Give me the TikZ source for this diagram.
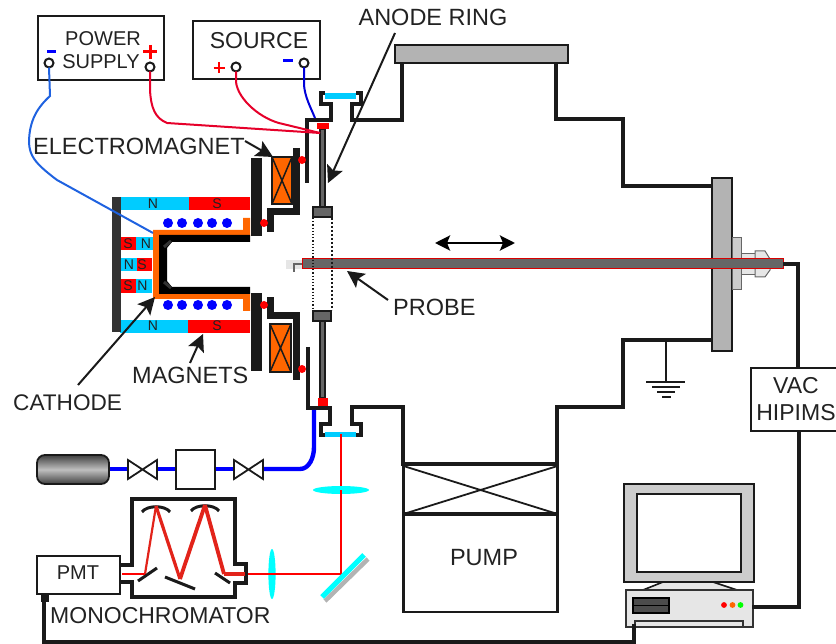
\documentclass[tikz,border=0pt]{standalone}
\usepackage{fontspec}
\setmainfont{Liberation Sans}
\usetikzlibrary{arrows.meta,calc}
\definecolor{ink}{HTML}{1A1A1A}
\definecolor{txt}{HTML}{222222}
\definecolor{cyanm}{HTML}{00CCFF}
\definecolor{lens}{HTML}{00FFFF}
\definecolor{orng}{HTML}{FF6600}
\definecolor{flg}{HTML}{B3B3B3}
\definecolor{rodg}{HTML}{666666}
\definecolor{lgt}{HTML}{E6E6E6}
\definecolor{mon}{HTML}{CCCCCC}
\definecolor{wireblue}{HTML}{1F62E0}
\definecolor{wirered}{HTML}{E6002A}
\definecolor{beam}{HTML}{E2231A}
\tikzset{
  wall/.style={draw=ink,line width=4.6pt,miter limit=10},
  boxst/.style={draw=ink,line width=2.4pt,fill=white,inner sep=0pt,outer sep=0pt},
  term/.style={circle,draw=ink,line width=2pt,fill=white,minimum size=9pt,inner sep=0pt,outer sep=0pt},
  lab/.style={text=txt,inner sep=0pt,font=\fontsize{23.5}{25}\selectfont},
  lab2/.style={text=txt,inner sep=0pt,font=\fontsize{23}{25}\selectfont},
  sm/.style={text=txt,inner sep=0pt,font=\fontsize{20}{22}\selectfont},
  pole/.style={text=txt,inner sep=0pt,font=\fontsize{14}{15}\selectfont},
  pointer/.style={draw=ink,line width=2pt,-{Stealth[length=17pt,width=17pt,inset=3.5pt]}},
  plate/.style={fill=ink},
  yoke/.style={draw=ink,line width=7pt},
  rod/.style={draw=ink,line width=1.3pt,fill=rodg},
  coilbox/.style={draw=ink,line width=2.6pt,fill=orng},
  cross/.style={draw=ink,line width=1.5pt},
  rdot/.style={fill=red},
  bdot/.style={fill=blue},
  gasl/.style={draw=blue,line width=4.4pt},
  valve/.style={draw=ink,line width=1.8pt,fill=white},
  cable/.style={draw=ink,line width=3.6pt},
  mirr/.style={draw=ink,line width=3pt},
}
\begin{document}
\begin{tikzpicture}[x=1pt,y=-1pt]
\useasboundingbox (0,0) rectangle (836,644);
% ---------- chamber
\draw[wall] (325,93)--(321,93)--(321,104)--(331,104)--(331,120)--(307,120)--(307,183);
\draw[wall] (356,93)--(361,93)--(361,104)--(352,104)--(352,120)--(402,120)--(402,63);
\draw[wall] (556,63)--(556,119)--(623,119)--(623,186)--(712,186);
\draw[wall] (712,340)--(623,340)--(623,407)--(557,407)--(557,464)--(403,464)--(403,407)--(352,407)--(352,424)--(361,424)--(361,435)--(356,435);
\draw[wall] (308,347)--(308,408)--(330,408)--(330,424)--(321,424)--(321,435)--(325,435);
\fill[cyanm] (325,93) rectangle (356,99);
\fill[cyanm] (325,432) rectangle (356,437);
\draw[draw=ink,line width=2.8pt,fill=flg] (395,45) rectangle (568,63);
\draw[draw=ink,line width=2.8pt,fill=flg] (712,178) rectangle (732,351);
% feedthrough
\draw[draw=rodg,line width=1pt,fill=mon] (732,238) rectangle (741,290);
\draw[draw=rodg,line width=1pt,fill=lgt] (741,254) rectangle (755,275);
\draw[draw=rodg,line width=1pt,fill=lgt] (755,251)--(765,251)--(770,259)--(770,270)--(765,277)--(755,277)--cycle;
% ---------- probe
\fill[lgt] (286,260) rectangle (302,269);
\draw[draw=rodg,line width=1.5pt] (294,272)--(294,264)--(302,264);
\coordinate (probeend) at (783,264);
\draw[draw=red!85!black,line width=1pt,fill=rodg] (302,259) rectangle (783,269);
% ---------- anode
\draw[rod] (320,129) rectangle (325,207);
\draw[rod] (320,321) rectangle (325,398);
\fill[red] (317,123) rectangle (329,129);
\fill[red] (318,398) rectangle (328,406);
\draw[draw=ink,line width=2.2pt,fill=rodg] (313,207) rectangle (332,217);
\draw[draw=ink,line width=2.2pt,fill=rodg] (313,311) rectangle (331,321);
\draw[draw=ink,line width=1.2pt,dotted] (313,218)--(313,310);
\draw[draw=ink,line width=2pt,dotted] (332,218)--(332,310);
% ---------- electromagnet
\fill[plate] (251,158) rectangle (262,236);
\fill[plate] (251,293) rectangle (262,371);
\draw[yoke] (296,148)--(296,212)--(270.5,212)--(270.5,232);
\draw[yoke] (296,380)--(296,316)--(270.5,316)--(270.5,297);
\draw[coilbox] (272,157) rectangle (292,204);
\draw[cross] (272,157)--(292,204) (292,157)--(272,204);
\draw[coilbox] (270,324) rectangle (291,372);
\draw[cross] (270,324)--(291,372) (291,324)--(270,372);
\foreach \p in {(264,223),(264,305),(302,160),(302,369)} \fill[rdot] \p circle (4);
% ---------- magnets
\fill[cyanm] (121,197) rectangle (189,210);
\fill[red] (189,197) rectangle (250,210);
\fill[cyanm] (120,320) rectangle (188,333);
\fill[red] (188,320) rectangle (250,333);
\fill[red] (121,237) rectangle (136,250);
\fill[cyanm] (136,237) rectangle (153,250);
\fill[cyanm] (121,258) rectangle (137,271);
\fill[red] (137,258) rectangle (152,271);
\fill[red] (121,279) rectangle (136,293);
\fill[cyanm] (136,279) rectangle (152,293);
\fill[black!80] (112,197) rectangle (121,332);
\node[pole] (n1) at (153,203.5) {N};
\node[pole] (s1) at (217,203.5) {S};
\node[pole] (n2) at (153,325.5) {N};
\node[pole] (s2) at (217,325.5) {S};
\node[pole] (s3) at (128,243.5) {S};
\node[pole] (n3) at (146,243.5) {N};
\node[pole] (n4) at (129,264.5) {N};
\node[pole] (s4) at (142,264.5) {S};
\node[pole] (s5) at (128,286) {S};
\node[pole] (n5) at (142.5,286) {N};
% coil turns
\foreach \x in {168,182,198,212,227} {
  \fill[bdot] (\x,223) circle (5);
  \fill[bdot] (\x,305) circle (5);
}
% ---------- cathode
\fill[orng] (243,218) rectangle (250,235) (153,230) rectangle (250,236);
\fill[orng] (243,294) rectangle (250,311) (153,294) rectangle (250,299);
\fill[orng] (153,230) rectangle (159,299);
\fill[black] (159,235)--(250,235)--(250,242)--(172,242)--(167,248)--(167,281)--(172,287)--(250,287)--(250,294)--(159,294)--cycle;
\draw[draw=black!80,line width=3pt] (164,247)--(171,241) (164,282)--(171,288);
% ---------- sources
\node[boxst,minimum width=126pt,minimum height=64pt] (psu) at (101,48) {};
\node[boxst,minimum width=127pt,minimum height=58pt] (src) at (256.5,50) {};
\node[sm] (psu1) at (103,39) {POWER};
\node[sm] (psu2) at (101,62) {SUPPLY};
\node[lab2] (srct) at (259,41) {SOURCE};
\node[term] (pm) at (49,63) {};
\node[term] (pp) at (150,67) {};
\node[term] (sp) at (236,67) {};
\node[term] (sm) at (304,63) {};
\draw[blue,line width=3pt] (47,51.5)--(56,51.5);
\draw[blue,line width=3pt] (283,61)--(293,61);
\draw[red,line width=3pt] (143,52)--(157,52) (150,45)--(150,59);
\draw[red,line width=2.4pt] (213.5,68)--(224.5,68) (219,62.5)--(219,73.5);
\coordinate (cathtop) at (153,233);
\coordinate (anodewire) at (320,133);
\coordinate (anodetop) at (315,118);
\draw[wireblue,line width=2pt] (pm.south)--(50,96) .. controls (38,107) and (29,120) .. (29,143) .. controls (30,155) and (33,162) .. (57,180) -- (cathtop);
\draw[wirered,line width=2pt] (pp.south)--(150,90) .. controls (151,108) and (155,118) .. (167,123) -- (anodewire);
\draw[wirered,line width=2pt] (sp.south)--(236,82) .. controls (238,100) and (262,120) .. (283,124) -- (anodewire);
\draw[blue!85!black,line width=2pt] (sm.south)--(304,85) .. controls (305,97) and (310,106) .. (anodetop);
% ---------- gas line
\draw[gasl] (109,469)--(128,469);
\draw[gasl] (157,469)--(176,469);
\draw[gasl] (215,469)--(234,469);
\draw[gasl] (263,469)--(300,469) .. controls (309,469) and (314,458) .. (314,447) -- (314,410);
\draw[draw=ink,line width=1.8pt,rounded corners=8pt,top color=black!75,bottom color=black!75,middle color=black!25] (37,455) rectangle (109,484);
\draw[valve] (128,460)--(157,479)--(157,460)--(128,479)--cycle;
\draw[valve] (234,460)--(263,479)--(263,460)--(234,479)--cycle;
\node[boxst,line width=1.8pt,minimum width=39pt,minimum height=39pt] (mfc) at (195.5,469.5) {};
% ---------- optics
\draw[red,line width=2pt] (245,574)--(341,574)--(341,434);
\fill[lens] (272,574) ellipse (3.6 and 25);
\fill[lens] (341,490) ellipse (28 and 4);
\draw[red,line width=2pt] (245,574)--(341,574)--(341,490);
\draw[flg,line width=4.5pt] (325,601)--(368,559);
\draw[lens,line width=5pt] (322,597)--(364,555);
% ---------- monochromator
\draw[draw=ink,line width=3.4pt] (120,565)--(132,565)--(132,499)--(235,499)--(235,564)--(246,564)--(246,583)--(235,583)--(235,597)--(132,597)--(132,582)--(120,582);
\draw[mirr] (142,512) .. controls (147,505) and (165,505) .. (170,512);
\draw[mirr] (191,511) .. controls (196,504) and (214,504) .. (219,511);
\draw[mirr] (138,581)--(157,568);
\draw[mirr] (165,577)--(195,589);
\draw[mirr] (215,573)--(230,583);
\draw[red,line width=2pt] (122,574)--(145,574);
\draw[beam,line width=2.2pt] (145,574)--(156,506);
\draw[beam,line width=3.2pt] (156,506)--(180,579);
\draw[beam,line width=3.8pt] (180,579)--(205,505);
\draw[beam,line width=3.8pt] (205,505)--(224,574);
\draw[beam,line width=3.2pt] (224,574)--(245,574);
\node[boxst,minimum width=83pt,minimum height=38pt] (pmt) at (78.5,575) {};
\node[sm] (pmtt) at (78,573) {PMT};
\fill[ink] (41,595) rectangle (49,602);
\coordinate (pmtc) at (44,602);
% ---------- pump
\draw[draw=ink,line width=2.2pt] (403.5,464) rectangle (557.5,612);
\draw[draw=ink,line width=3.2pt] (403.5,514)--(557.5,514);
\draw[draw=ink,line width=1.8pt] (403.5,466)--(557.5,514) (557.5,466)--(403.5,514);
\draw[wall] (557,407)--(557,464)--(403,464)--(403,407);
\node[lab] (pumpt) at (484,558) {PUMP};
% ---------- ground
\draw[draw=ink,line width=1.7pt] (666,342)--(666,382);
\draw[draw=ink,line width=1.7pt] (646,382)--(685,382) (652,387)--(680,387) (657,392)--(675,392) (662,397)--(671,397);
% ---------- VAC + computer
\node[boxst,minimum width=90pt,minimum height=63pt] (vac) at (796,399.5) {};
\node[lab2] (vact) at (796,386) {VAC};
\node[lab2] (hip) at (796,413) {HIPIMS};
\draw[draw=ink,line width=1.6pt,fill=lgt] (663,582)--(643,590)--(737,590)--(713,582)--cycle;
\draw[draw=ink,line width=2.4pt,fill=mon] (624,484) rectangle (754,582);
\draw[draw=ink,line width=2.4pt,fill=white] (637,494) rectangle (741,572);
\draw[draw=black!80,line width=1.8pt,fill=lgt] (626,590) rectangle (753,627);
\draw[draw=black!80,line width=1.3pt,fill=lgt] (635,621) rectangle (743,627);
\draw[draw=black,line width=2pt,fill=black!70] (633,598) rectangle (669,613);
\draw[draw=black,line width=1.3pt] (633,605.5)--(669,605.5);
\fill[red] (724,605) circle (2.9);
\fill[orng] (732.5,605) circle (2.9);
\fill[green] (740.5,605) circle (2.9);
\coordinate (pcback) at (752,607);
\coordinate (pcbase) at (634,624);
\draw[cable] (probeend)--(798,264)--(vac.north -| 798,0);
\draw[cable] (vac.south -| 799,0)--(799,607)--(pcback);
\draw[cable] (pcbase)--(634,642)--(44,642)--(pmtc);
% ---------- labels and pointers
\node[lab] (anl) at (433,17) {ANODE RING};
\node[lab,anchor=west] (eml) at (33,146) {ELECTROMAGNET};
\node[lab2,anchor=west,font=\fontsize{22.6}{25}\selectfont] (cal) at (13,402.5) {CATHODE};
\node[lab,anchor=west] (mal) at (132,375) {MAGNETS};
\node[lab,anchor=west] (prl) at (393,307) {PROBE};
\node[lab2,anchor=west] (mol) at (50,616) {MONOCHROMATOR};
\coordinate (anar) at (328,183);
\coordinate (emar) at (273,157);
\coordinate (caar) at (155,297);
\coordinate (maar) at (203,334);
\coordinate (prar) at (347,271);
\draw[pointer] (395,33)--(anar);
\draw[pointer] (245,141)--(emar);
\draw[pointer] (78,385)--(caar);
\draw[pointer] (190,363)--(maar);
\draw[pointer] (388,300)--(prar);
\coordinate (dl) at (435,243);
\coordinate (dr) at (515,243);
\draw[draw=black,line width=2.8pt,{Stealth[length=15pt,width=15pt,inset=3pt]}-{Stealth[length=15pt,width=15pt,inset=3pt]}] (dl)--(dr);
\end{tikzpicture}
\end{document}
